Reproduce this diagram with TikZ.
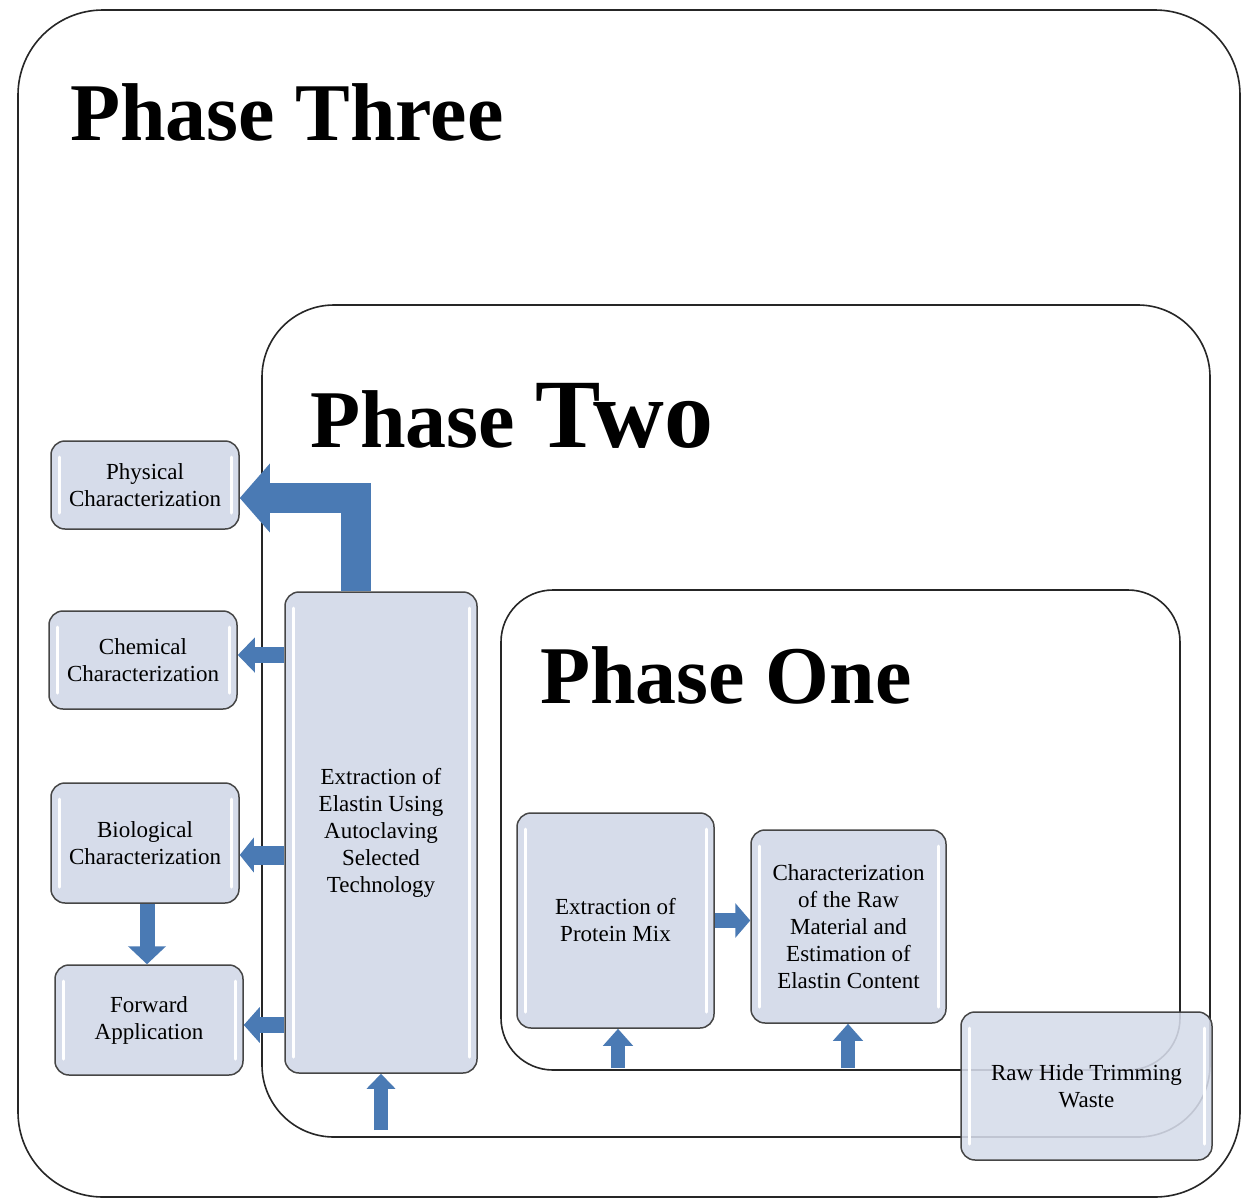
\documentclass[tikz,border=0pt]{standalone}
\usepackage{fontspec}
\setmainfont{Liberation Serif}
\usetikzlibrary{arrows.meta,calc}
\definecolor{boxfill}{RGB}{214,220,234}
\definecolor{boxline}{RGB}{70,70,70}
\definecolor{arrowblue}{RGB}{74,122,180}
\begin{document}
\begin{tikzpicture}[x=1pt,y=-1pt,
  frame/.style={draw=black!85, line width=1.6pt},
  phasetitle/.style={anchor=base west, font=\bfseries\fontsize{82}{82}\selectfont, inner sep=0pt},
  stepbox/.style={draw=boxline, fill=boxfill, line width=1.5pt, rounded corners=14pt,
    align=center, font=\fontsize{23}{27}\selectfont, inner sep=2pt,
    path picture={
      \draw[white, line width=3pt, line cap=round]
        ([xshift=8pt,yshift=-16pt]path picture bounding box.north west) --
        ([xshift=8pt,yshift=16pt]path picture bounding box.south west);
      \draw[white, line width=3pt, line cap=round]
        ([xshift=-8pt,yshift=-16pt]path picture bounding box.north east) --
        ([xshift=-8pt,yshift=16pt]path picture bounding box.south east);
    }},
  barrow/.style n args={3}{draw=arrowblue, line width=#1, line join=miter,
    arrows={-{Triangle[width=#2,length=#3]}}}
]
\useasboundingbox (0,0) rectangle (1243,1200);
\fill[white] (0,0) rectangle (1243,1200);

% phase frames
\draw[frame, rounded corners=85pt] (18,10) rectangle (1240,1197);
\draw[frame, rounded corners=72pt] (262,305) rectangle (1210,1137);
\draw[frame, rounded corners=52pt] (501,590) rectangle (1180,1070);

% titles
\node[phasetitle] (t3) at (70,140) {Phase Three};
\node[phasetitle] (t2) at (310,447) {Phase {\fontsize{98}{98}\selectfont Two}};
\node[phasetitle] (t1) at (540,703) {Phase One};

% boxes
\node[stepbox, minimum width=188pt, minimum height=88pt] (phys) at (145,485) {Physical\\Characterization};
\node[stepbox, minimum width=188pt, minimum height=98pt] (chem) at (143,660) {Chemical\\Characterization};
\node[stepbox, minimum width=188pt, minimum height=120pt] (bio) at (145,843) {Biological\\Characterization};
\node[stepbox, minimum width=188pt, minimum height=110pt] (fwd) at (149,1020) {Forward\\Application};
\node[stepbox, minimum width=192pt, minimum height=481pt] (elast) at (381,832.5) {Extraction of\\Elastin Using\\Autoclaving\\Selected\\Technology};
\node[stepbox, minimum width=197pt, minimum height=215pt] (prot) at (615.5,920.5) {Extraction of\\Protein Mix};
\node[stepbox, minimum width=195pt, minimum height=193pt] (char) at (848.5,926.5) {Characterization\\of the Raw\\Material and\\Estimation of\\Elastin Content};

% free ends of the input arrows
\coordinate (inE) at (381,1130);
\coordinate (inP) at (618,1068);
\coordinate (inC) at (848,1068);

% arrows
\draw[barrow={30pt}{67pt}{30pt}] ([xshift=-25pt]elast.north) |- ([yshift=-13pt]phys.east);
\draw[barrow={16pt}{34pt}{17pt}] (elast.west |- 0,655) -- (chem.east |- 0,655);
\draw[barrow={19pt}{34pt}{14pt}] (elast.west |- 0,855) -- (bio.east |- 0,855);
\draw[barrow={16pt}{35pt}{16pt}] (elast.west |- 0,1025) -- (fwd.east |- 0,1025);
\draw[barrow={15pt}{37pt}{18pt}] ([xshift=2pt]bio.south) -- ([xshift=2pt]bio.south |- fwd.north);
\draw[barrow={14pt}{28pt}{15pt}] (inE) -- (elast.south);
\draw[barrow={14pt}{29pt}{17pt}] (inP) -- (inP |- prot.south);
\draw[barrow={14pt}{29pt}{17pt}] (inC) -- (inC |- char.south);
\draw[barrow={15pt}{34pt}{15pt}] (prot.east) -- (prot.east -| char.west);

% raw material box, semi-transparent over the frames
\node[stepbox, fill opacity=0.88, text opacity=1, minimum width=251pt, minimum height=148pt] (raw) at (1086.5,1086) {Raw Hide Trimming\\Waste};
\end{tikzpicture}
\end{document}
